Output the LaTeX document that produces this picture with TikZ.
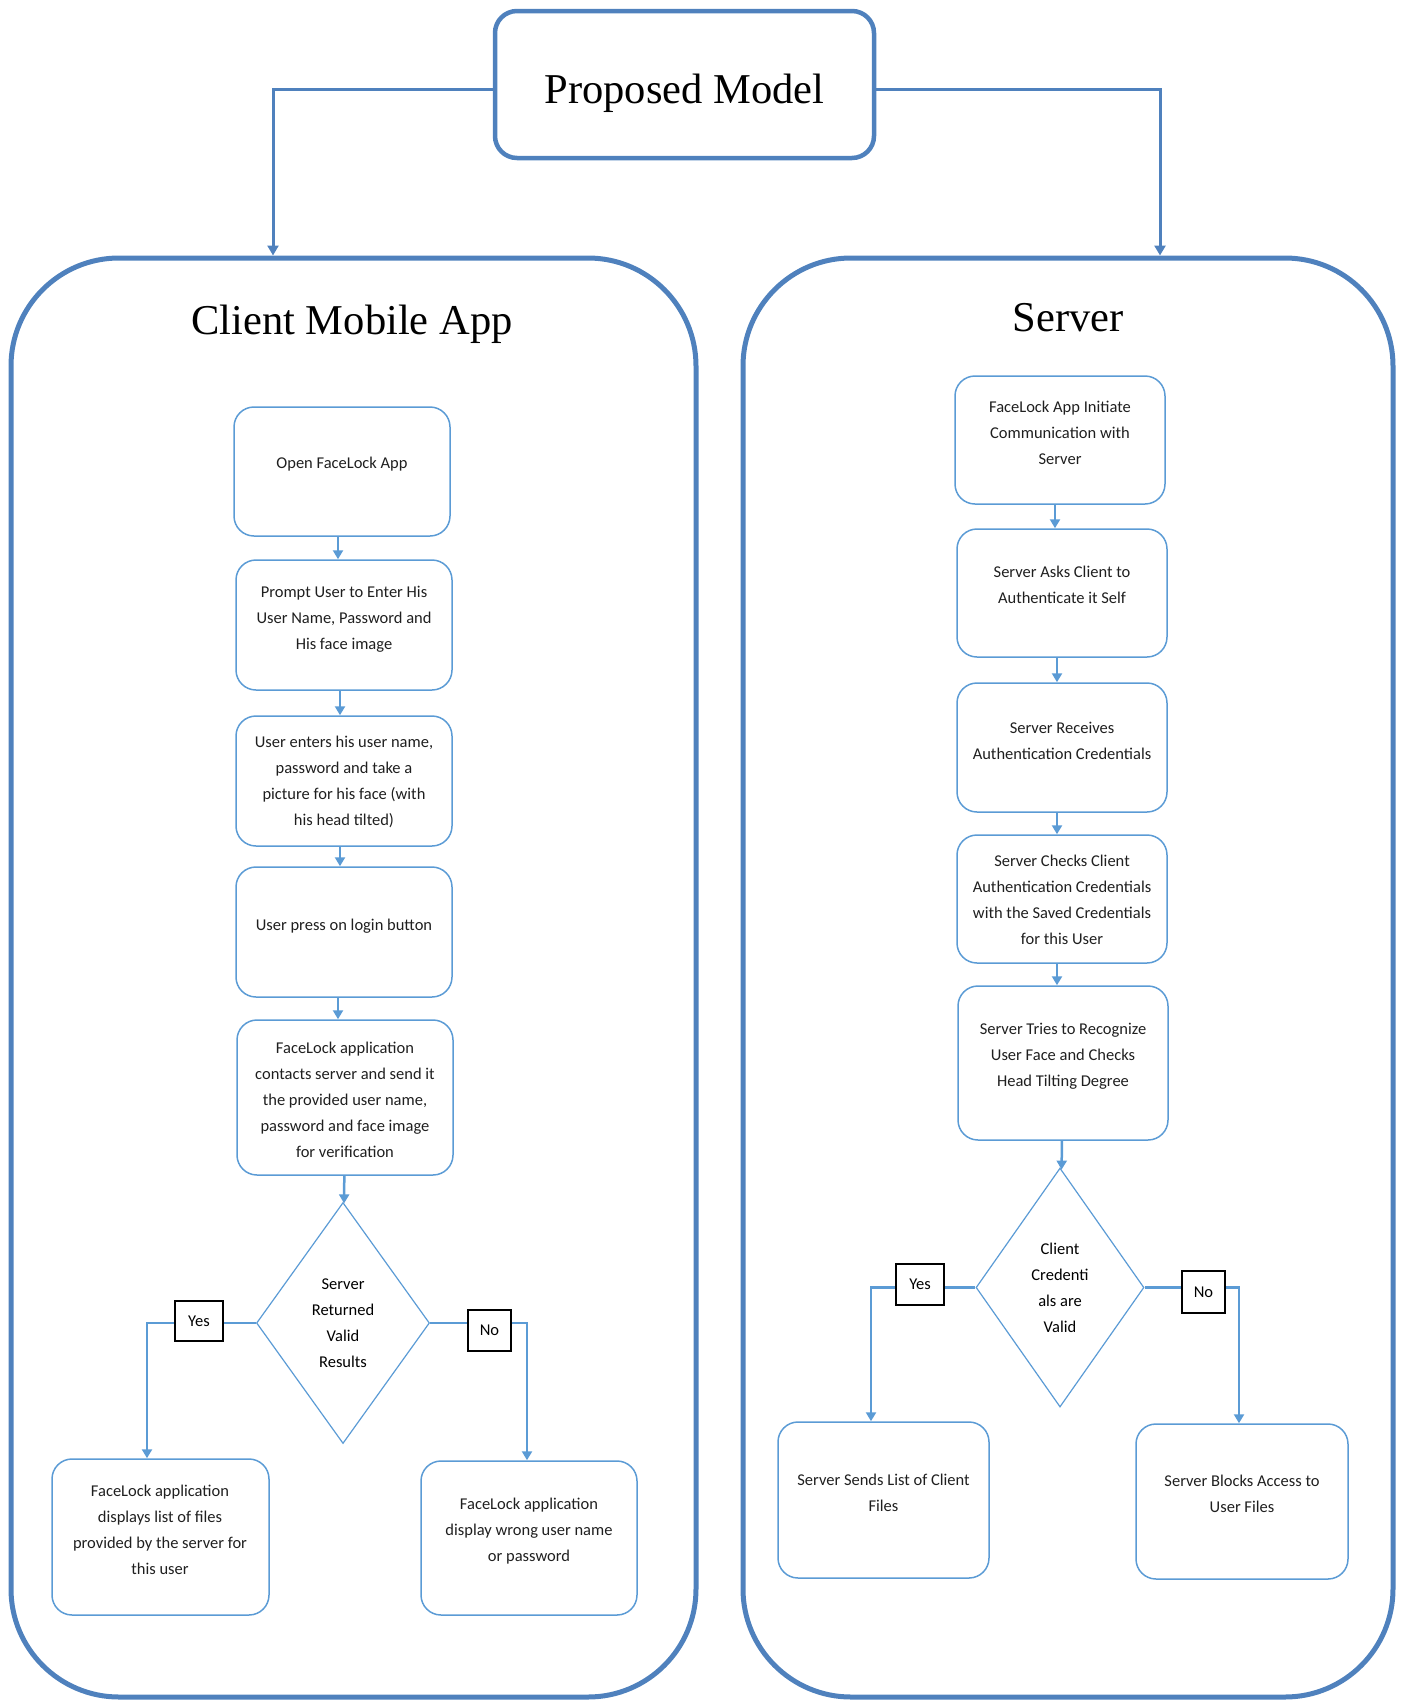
\documentclass[tikz,border=0pt]{standalone}
\usepackage{fontspec}
\usetikzlibrary{arrows.meta,shapes.geometric}
\newfontfamily\headserif{Liberation Serif}
\newfontfamily\calib{Carlito}
\definecolor{lblue}{RGB}{91,155,213}
\definecolor{dblue}{RGB}{79,129,189}

\begin{document}
\begin{tikzpicture}[x=1pt,y=-1pt,
  panel/.style={draw=dblue, line width=5pt, rounded corners=108pt, inner sep=0pt},
  topbox/.style={draw=dblue, line width=4.5pt, rounded corners=22pt, inner sep=0pt,
    minimum width=379pt, minimum height=147pt},
  stepbox/.style={draw=lblue, line width=1.5pt, rounded corners=20pt, inner sep=0pt},
  decide/.style={diamond, draw=lblue, line width=1.2pt, inner sep=0pt, align=center,
    font=\calib\fontsize{16.5}{26}\selectfont},
  tag/.style={draw=black, line width=1.5pt, fill=white, inner sep=0pt,
    font=\calib\fontsize{16.5}{26}\selectfont},
  txt/.style={font=\calib\fontsize{16.5}{26}\selectfont, align=center, inner sep=0pt, text=black!88},
  heading/.style={font=\headserif\fontsize{42.5}{50}\selectfont, anchor=base, inner sep=0pt},
  conn/.style={draw=lblue, line width=2.5pt},
  arr/.style={conn, -{Triangle[width=10pt,length=9pt]}},
  toparr/.style={draw=dblue, line width=3pt, -{Triangle[width=11pt,length=10pt]}}]

\useasboundingbox (0,0) rectangle (1404,1700);

% ---- top level ----
\node[topbox] (pm) at (684.5,84.5) {};
\node[heading] (pmt) at (684.5,103) {Proposed Model};

\node[panel, minimum width=685pt, minimum height=1439pt] (client) at (353.5,977.5) {};
\node[panel, minimum width=650pt, minimum height=1439pt] (server) at (1068,977.5) {};
\node[heading] (clientt) at (352,334) {Client Mobile App};
\node[heading] (servert) at (1068,331) {Server};

\draw[toparr] ([yshift=-4.5pt]pm.west) -| ([xshift=-80.5pt]client.north);
\draw[toparr] ([yshift=-4.5pt]pm.east) -| ([xshift=92pt]server.north);

% ---- client side ----
\node[stepbox, minimum width=216pt, minimum height=129pt] (c1) at (342,471.5) {};
\node[stepbox, minimum width=216pt, minimum height=130pt] (c2) at (344,625) {};
\node[stepbox, minimum width=216pt, minimum height=130pt] (c3) at (344,781) {};
\node[stepbox, minimum width=216pt, minimum height=130pt] (c4) at (344,932) {};
\node[stepbox, minimum width=216pt, minimum height=155pt] (c5) at (345,1097.5) {};
\node[decide, minimum width=173pt, minimum height=241pt] (d1) at (343,1323)
  {Server\\Returned\\Valid\\Results};
\node[stepbox, minimum width=217pt, minimum height=156pt] (r1) at (160.5,1537) {};
\node[stepbox, minimum width=216pt, minimum height=154pt] (r2) at (529,1538) {};

\node[txt] (c1t) at (342,464) {Open FaceLock App};
\node[txt] (c2t) at (344,619) {Prompt User to Enter His\\User Name, Password and\\His face image};
\node[txt] (c3t) at (344,782) {User enters his user name,\\password and take a\\picture for his face (with\\his head tilted)};
\node[txt] (c4t) at (344,926) {User press on login button};
\node[txt] (c5t) at (345,1100) {FaceLock application\\contacts server and send it\\the provided user name,\\password and face image\\for verification};
\node[txt] (r1t) at (160,1530) {FaceLock application\\displays list of files\\provided by the server for\\this user};
\node[txt] (r2t) at (529,1531) {FaceLock application\\display wrong user name\\or password};

\draw[arr] ([xshift=-4pt]c1.south) -- ([xshift=-6pt]c2.north);
\draw[arr] ([xshift=-4pt]c2.south) -- ([xshift=-4pt]c3.north);
\draw[arr] ([xshift=-4pt]c3.south) -- ([xshift=-4pt]c4.north);
\draw[arr] ([xshift=-6pt]c4.south) -- ([xshift=-7pt]c5.north);
\draw[arr] (c5) -- (d1);
\draw[arr] (d1.west) -| ([xshift=-13.5pt]r1.north);
\draw[arr] (d1.east) -| ([xshift=-2pt]r2.north);
\node[tag, minimum width=48pt, minimum height=40pt] (yes1) at (199,1321) {Yes};
\node[tag, minimum width=43pt, minimum height=41pt] (no1) at (489.5,1330.5) {No};

% ---- server side ----
\node[stepbox, minimum width=210pt, minimum height=128pt] (s1) at (1060,440) {};
\node[stepbox, minimum width=210pt, minimum height=128pt] (s2) at (1062,593) {};
\node[stepbox, minimum width=210pt, minimum height=129pt] (s3) at (1062,747.5) {};
\node[stepbox, minimum width=210pt, minimum height=128pt] (s4) at (1062,899) {};
\node[stepbox, minimum width=210pt, minimum height=154pt] (s5) at (1063,1063) {};
\node[decide, minimum width=168pt, minimum height=239pt] (d2) at (1060,1287.5)
  {Client\\Credenti\\als are\\Valid};
\node[stepbox, minimum width=211pt, minimum height=156pt] (t1) at (883.5,1500) {};
\node[stepbox, minimum width=212pt, minimum height=155pt] (t2) at (1242,1501.5) {};

\node[txt] (s1t) at (1060,433) {FaceLock App Initiate\\Communication with\\Server};
\node[txt] (s2t) at (1062,585) {Server Asks Client to\\Authenticate it Self};
\node[txt] (s3t) at (1062,741) {Server Receives\\Authentication Credentials};
\node[txt] (s4t) at (1062,900) {Server Checks Client\\Authentication Credentials\\with the Saved Credentials\\for this User};
\node[txt] (s5t) at (1063,1056) {Server Tries to Recognize\\User Face and Checks\\Head Tilting Degree};
\node[txt] (t1t) at (883.5,1493) {Server Sends List of Client\\Files};
\node[txt] (t2t) at (1242,1494) {Server Blocks Access to\\User Files};

\draw[arr] ([xshift=-5pt]s1.south) -- ([xshift=-7pt]s2.north);
\draw[arr] ([xshift=-5pt]s2.south) -- ([xshift=-5pt]s3.north);
\draw[arr] ([xshift=-5pt]s3.south) -- ([xshift=-5pt]s4.north);
\draw[arr] ([xshift=-5pt]s4.south) -- ([xshift=-6pt]s5.north);
\draw[arr] (s5) -- (d2);
\draw[arr] (d2.west) -| ([xshift=-12.5pt]t1.north);
\draw[arr] (d2.east) -| ([xshift=-3pt]t2.north);
\node[tag, minimum width=48pt, minimum height=41pt] (yes2) at (920,1284.5) {Yes};
\node[tag, minimum width=43pt, minimum height=42pt] (no2) at (1203.5,1292) {No};

\end{tikzpicture}
\end{document}
